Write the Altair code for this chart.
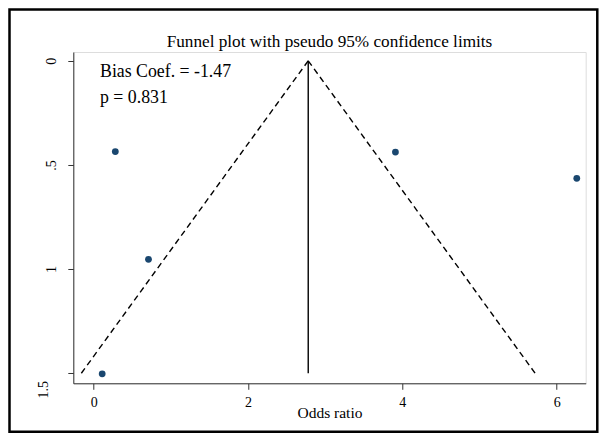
import altair as alt
import pandas as pd

# Study estimates (odds ratio) and their standard errors
odds_ratio = [0.28, 0.71, 0.11, 3.91, 6.26]
std_err = [0.436, 0.953, 1.503, 0.438, 0.564]

# Pseudo 95% confidence limits (funnel) and pooled estimate
funnel_side = ["left", "left", "right", "right"]
funnel_x = [2.78, -0.16, 2.78, 5.72]
funnel_y = [0.0, 1.5, 0.0, 1.5]
pooled_x = [2.78]
pooled_y0 = [0.0]
pooled_y1 = [1.5]

# Annotation text
note_text = ["Bias Coef. = -1.47", "p = 0.831"]
note_x = [0.082, 0.082]
note_y = [0.076, 0.201]

x_ticks = [0, 2, 4, 6]
y_ticks = [0, 0.5, 1, 1.5]

FONT = "Liberation Serif"
NAVY = "#1a476f"

pts = pd.DataFrame({"or": odds_ratio, "se": std_err})
fun = pd.DataFrame({"side": funnel_side, "or": funnel_x, "se": funnel_y})
pool = pd.DataFrame({"or": pooled_x, "se": pooled_y0, "se2": pooled_y1})
notes = pd.DataFrame({"t": note_text, "or": note_x, "se": note_y})

xscale = alt.Scale(domain=[-0.2644, 6.3755], nice=False, zero=False)
yscale = alt.Scale(domain=[-0.04225, 1.5483], nice=False, zero=False, reverse=True)

xaxis = alt.Axis(
    values=x_ticks, title="Odds ratio", grid=False, format="d",
    labelFont=FONT, labelFontSize=14, labelColor="black", labelPadding=6.5,
    tickSize=6, tickColor="#333333", domainColor="#333333",
    titleFont=FONT, titleFontSize=15.5, titleFontWeight="normal", titleColor="black",
    titleY=34.7, titleBaseline="alphabetic",
)
yaxis = alt.Axis(
    values=y_ticks, title=None, grid=False, format="~g",
    labelExpr="datum.value == 0.5 ? '.5' : datum.label",
    labelAngle=270, labelFont=FONT, labelFontSize=14, labelColor="black",
    labelPadding={"condition": {"test": "datum.value == 1.5", "value": 17}, "value": 9},
    labelOffset={"condition": {"test": "datum.value == 1.5", "value": 16}, "value": 0},
    tickSize=5.5, tickColor="#333333", domainColor="#333333",
)

x_enc = alt.X("or:Q", scale=xscale, axis=xaxis)
y_enc = alt.Y("se:Q", scale=yscale, axis=yaxis)

funnel = alt.Chart(fun).mark_line(
    color="black", strokeDash=[6, 4], strokeWidth=1.4
).encode(x=x_enc, y=y_enc, detail="side:N")

pooled = alt.Chart(pool).mark_rule(color="black", strokeWidth=1.4).encode(
    x="or:Q", y="se:Q", y2="se2:Q"
)

points = alt.Chart(pts).mark_point(
    filled=True, color=NAVY, size=46, opacity=1
).encode(x="or:Q", y="se:Q")

text = alt.Chart(notes).mark_text(
    align="left", baseline="alphabetic", font=FONT, fontSize=17.8, color="black"
).encode(x="or:Q", y="se:Q", text="t:N")

frame = alt.Chart(pd.DataFrame({"k": [0]})).mark_rect(
    fill=None, stroke="black", strokeWidth=2.5
).encode(
    x=alt.value(-63.8), x2=alt.value(524.0), y=alt.value(-42.5), y2=alt.value(379.8)
)

chart = alt.layer(frame, funnel, pooled, points, text).properties(
    width=512.4,
    height=331.3,
    title=alt.TitleParams(
        text="Funnel plot with pseudo 95% confidence limits",
        font=FONT, fontSize=17.2, fontWeight="normal", color="black",
        anchor="middle", offset=2, dy=44,
    ),
    autosize=alt.AutoSizeParams(type="none"),
    padding={"left": 65.3, "top": 44, "right": 13, "bottom": 50},
).configure_view(stroke=None).configure(background="white")

chart.save("out.html", embed_options={"renderer": "svg", "actions": False})
